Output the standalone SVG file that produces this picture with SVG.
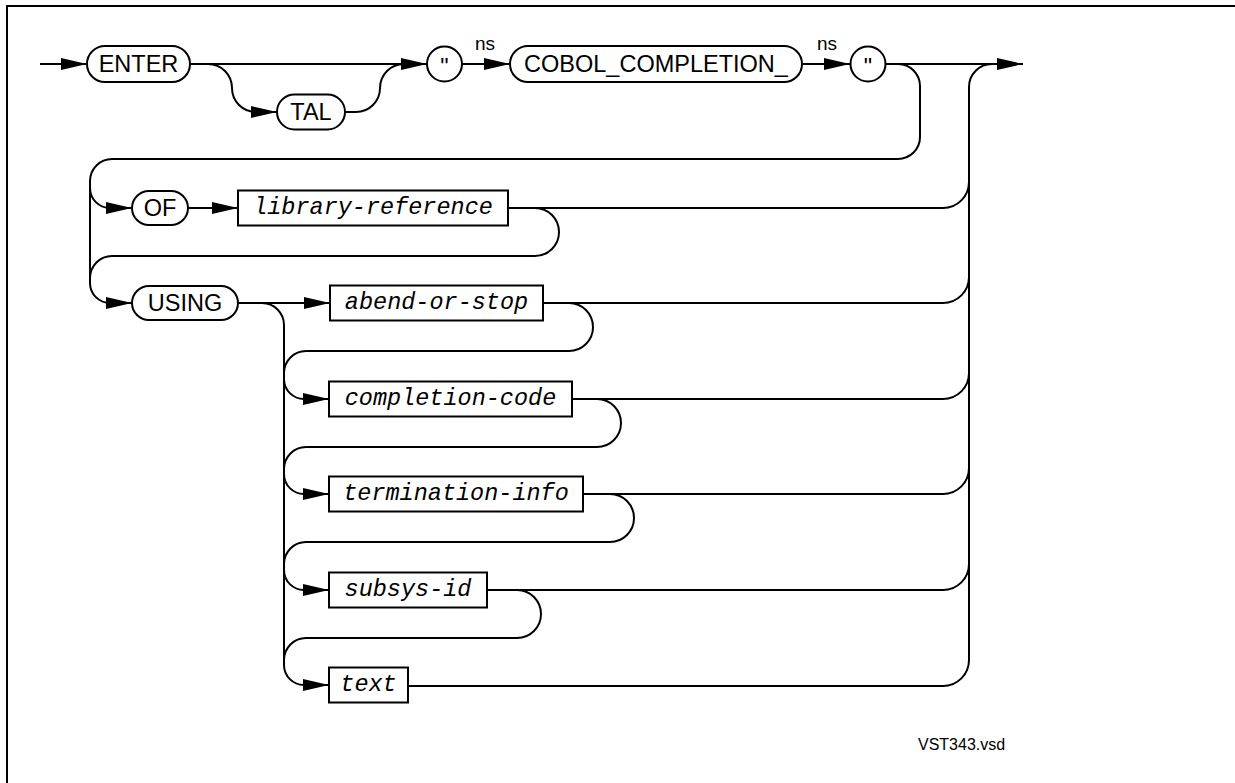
<svg xmlns="http://www.w3.org/2000/svg" width="1235" height="783" viewBox="0 0 1235 783">
  <defs>
    <marker id="arrow" markerUnits="userSpaceOnUse" markerWidth="27" markerHeight="12" refX="26" refY="6" orient="auto">
      <path d="M0,0 L26,6 L0,12 z" fill="#000"/>
    </marker>
    <style>
      .line { fill: none; stroke: #000; stroke-width: 2; }
      .arr { marker-end: url(#arrow); }
      .kw { fill: #fff; stroke: #000; stroke-width: 2; }
      .var { fill: #fff; stroke: #000; stroke-width: 2; }
      .kwt { font-family: "Liberation Sans", Arial, sans-serif; font-size: 23.5px; fill: #000; text-anchor: middle; }
      .vart { font-family: "Liberation Mono", "Courier New", monospace; font-style: italic; font-size: 23.5px; fill: #000; text-anchor: middle; }
      .note { font-family: "Liberation Sans", Arial, sans-serif; font-size: 19px; fill: #000; }
      .fname { font-family: "Liberation Sans", Arial, sans-serif; font-size: 16px; fill: #000; }
    </style>
  </defs>

  <rect width="1235" height="783" fill="#fff"/>
  <!-- frame edges -->
  <path class="line" d="M7,783 V6 H1235"/>

  <!-- connectors -->
  <g id="connectors">
    <!-- entry and main line -->
    <path class="line arr" d="M40,64 H87"/>
    <path class="line arr" d="M190,64 H427"/>
    <!-- optional TAL -->
    <path class="line arr" d="M190,64 H208 A24,24 0 0 1 232,88 A24,24 0 0 0 256,112 H277"/>
    <path class="line" d="M345,112 H356 A24,24 0 0 0 380,88 A24,24 0 0 1 404,64"/>
    <path class="line arr" d="M462,64 H510"/>
    <path class="line arr" d="M802,64 H850"/>
    <path class="line arr" d="M886,64 H1023"/>

    <!-- return from closing quote to the OF / USING choices -->
    <path class="line arr" d="M886,64 H898 A22,22 0 0 1 920,86 V137 A22,22 0 0 1 898,159 H112 A22,22 0 0 0 90,181 V283 A20,20 0 0 0 110,303 H132"/>
    <path class="line arr" d="M90,188 A20,20 0 0 0 110,208 H132"/>

    <!-- OF library-reference -->
    <path class="line arr" d="M188,208 H238"/>
    <path class="line" d="M508,208 H943 A26,26 0 0 0 969,182"/>
    <path class="line" d="M508,208 H535 A24,24 0 0 1 559,232 A24,24 0 0 1 535,256 H112 A22,22 0 0 0 90,278"/>

    <!-- right-hand collector -->
    <path class="line" d="M992,64 A23,23 0 0 0 969,87 V660 A26,26 0 0 1 943,686 H408"/>

    <!-- USING options -->
    <path class="line arr" d="M238,303 H330"/>
    <path class="line arr" d="M238,303 H262 A22,22 0 0 1 284,325 V665 A20,20 0 0 0 304,685 H329"/>

    <path class="line" d="M543,303 H943 A26,26 0 0 0 969,277"/>
    <path class="line" d="M543,303 H569 A24,24 0 0 1 593,327 A24,24 0 0 1 569,351 H306 A22,22 0 0 0 284,373"/>
    <path class="line arr" d="M284,379 A20,20 0 0 0 304,399 H329"/>

    <path class="line" d="M572,399 H943 A26,26 0 0 0 969,373"/>
    <path class="line" d="M572,399 H597 A24,24 0 0 1 621,423 A24,24 0 0 1 597,447 H306 A22,22 0 0 0 284,469"/>
    <path class="line arr" d="M284,474 A20,20 0 0 0 304,494 H329"/>

    <path class="line" d="M583,494 H943 A26,26 0 0 0 969,468"/>
    <path class="line" d="M583,494 H610 A24,24 0 0 1 634,518 A24,24 0 0 1 610,542 H306 A22,22 0 0 0 284,564"/>
    <path class="line arr" d="M284,570 A20,20 0 0 0 304,590 H329"/>

    <path class="line" d="M487,590 H943 A26,26 0 0 0 969,564"/>
    <path class="line" d="M487,590 H517 A24,24 0 0 1 541,614 A24,24 0 0 1 517,638 H306 A22,22 0 0 0 284,660"/>
  </g>

  <!-- keyword nodes -->
  <g id="enter">
    <rect class="kw" x="87" y="46" width="103" height="36" rx="18"/>
    <text class="kwt" x="138.5" y="72">ENTER</text>
  </g>
  <g id="tal">
    <rect class="kw" x="277" y="94.5" width="68" height="35" rx="17.5"/>
    <text class="kwt" x="311" y="120">TAL</text>
  </g>
  <g id="quote-open">
    <circle class="kw" cx="444.5" cy="64" r="17.5"/>
    <text class="kwt" x="444.5" y="75">"</text>
  </g>
  <g id="ns-1">
    <text class="note" x="475" y="50">ns</text>
  </g>
  <g id="cobol-completion">
    <rect class="kw" x="510" y="46" width="292" height="36" rx="18"/>
    <text class="kwt" x="656" y="72">COBOL_COMPLETION_</text>
  </g>
  <g id="ns-2">
    <text class="note" x="817" y="50">ns</text>
  </g>
  <g id="quote-close">
    <circle class="kw" cx="868" cy="64" r="17.5"/>
    <text class="kwt" x="868" y="75">"</text>
  </g>
  <g id="of">
    <rect class="kw" x="132" y="191" width="56" height="34" rx="17"/>
    <text class="kwt" x="160" y="216">OF</text>
  </g>
  <g id="using">
    <rect class="kw" x="132" y="286" width="106" height="34" rx="17"/>
    <text class="kwt" x="185" y="311">USING</text>
  </g>

  <!-- variable nodes -->
  <g id="library-reference">
    <rect class="var" x="238" y="190.5" width="270" height="35"/>
    <text class="vart" x="373" y="214">library-reference</text>
  </g>
  <g id="abend-or-stop">
    <rect class="var" x="330" y="285.5" width="213" height="35"/>
    <text class="vart" x="436.5" y="309">abend-or-stop</text>
  </g>
  <g id="completion-code">
    <rect class="var" x="329" y="381.5" width="243" height="35"/>
    <text class="vart" x="450.5" y="405">completion-code</text>
  </g>
  <g id="termination-info">
    <rect class="var" x="329" y="476.5" width="254" height="35"/>
    <text class="vart" x="456" y="500">termination-info</text>
  </g>
  <g id="subsys-id">
    <rect class="var" x="329" y="572.5" width="158" height="35"/>
    <text class="vart" x="408" y="596">subsys-id</text>
  </g>
  <g id="text">
    <rect class="var" x="329" y="667.5" width="79" height="35"/>
    <text class="vart" x="368.5" y="691">text</text>
  </g>

  <g id="file-name">
    <text class="fname" x="918" y="750">VST343.vsd</text>
  </g>
</svg>
